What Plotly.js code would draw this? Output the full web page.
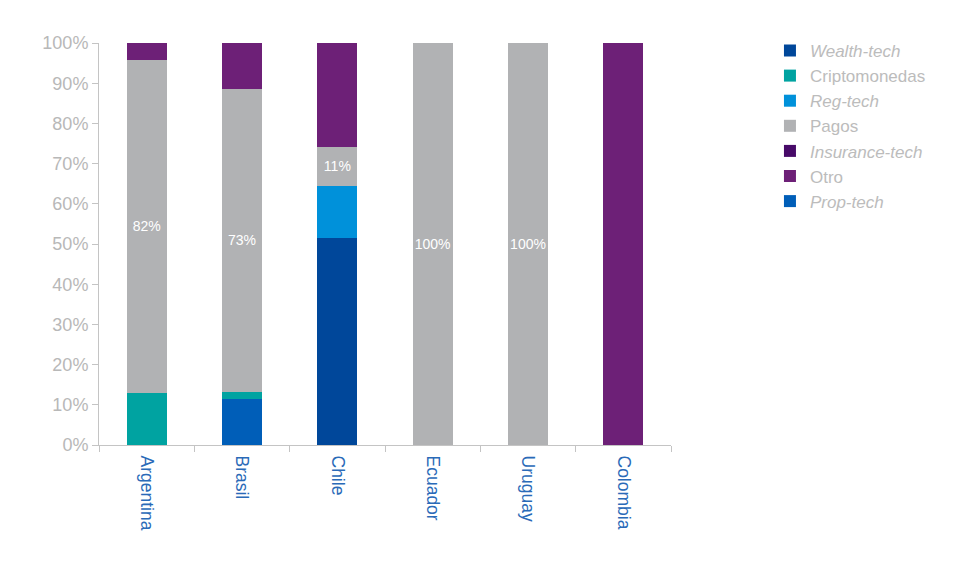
<!DOCTYPE html>
<html>
<head>
<meta charset="utf-8">
<script src="https://cdn.plot.ly/plotly-3.0.1.min.js"></script>
<style>
  html, body { margin: 0; padding: 0; background: #fff; }
  #chart { width: 966px; height: 580px; }
</style>
</head>
<body>
<div id="chart"></div>
<script>
const countries = ['Argentina', 'Brasil', 'Chile', 'Ecuador', 'Uruguay', 'Colombia']

// shares per country, in percent
const propTech = [0, 11.4, 0, 0, 0, 0]
const wealthTech = [0, 0, 51.5, 0, 0, 0]
const cripto = [13.0, 1.8, 0, 0, 0, 0]
const regTech = [0, 0, 13.0, 0, 0, 0]
const pagos = [82.8, 75.4, 9.7, 100, 100, 0]
const insuranceTech = [0, 0, 0, 0, 0, 0]
const otro = [4.2, 11.4, 25.8, 0, 0, 100]

const pagosLabels = ['82%', '73%', '11%', '100%', '100%', '']

const yTicks = [0, 10, 20, 30, 40, 50, 60, 70, 80, 90, 100]
const yTickText = yTicks.map(v => v + '%')

function barTrace(name, values, color, rank) {
    return {
        type: 'bar',
        x: countries,
        y: values,
        name: name,
        legendrank: rank,
        marker: { color: color, line: { width: 0 } },
        hoverinfo: 'skip',
        textposition: 'none',
    }
}

const pagosTrace = barTrace('Pagos', pagos, '#b1b2b4', 4)
pagosTrace.text = pagosLabels
pagosTrace.textposition = 'inside'
pagosTrace.textangle = 0
pagosTrace.insidetextanchor = 'middle'
pagosTrace.constraintext = 'none'
pagosTrace.insidetextfont = { color: '#ffffff', size: 14, family: 'Arial, Liberation Sans, sans-serif' }

const traces = [
    barTrace('<i>Prop-tech</i>', propTech, '#005eb8', 7),
    barTrace('<i>Wealth-tech</i>', wealthTech, '#00479a', 1),
    barTrace('Criptomonedas', cripto, '#00a3a1', 2),
    barTrace('<i>Reg-tech</i>', regTech, '#0091da', 3),
    pagosTrace,
    barTrace('<i>Insurance-tech</i>', insuranceTech, '#470a68', 5),
    barTrace('Otro', otro, '#6d2077', 6),
]

const layout = {
    width: 966,
    height: 580,
    barmode: 'stack',
    bargap: 0.58,
    paper_bgcolor: '#ffffff',
    plot_bgcolor: '#ffffff',
    margin: { l: 99, r: 295, t: 43, b: 135 },
    font: { family: 'Arial, Liberation Sans, sans-serif', color: '#b4b4b4', size: 17 },
    showlegend: true,
    legend: {
        x: 1.173,
        xanchor: 'left',
        y: 1.025,
        yanchor: 'top',
        traceorder: 'normal',
        font: { size: 17, color: '#bcbcbc' },
        itemwidth: 30,
        tracegroupgap: 0,
        bgcolor: 'rgba(0,0,0,0)',
    },
    xaxis: {
        type: 'category',
        tickangle: 90,
        tickson: 'boundaries',
        ticks: 'outside',
        ticklen: 6,
        tickcolor: '#c4c4c4',
        ticklabelstandoff: 6,
        showline: true,
        linecolor: '#c4c4c4',
        linewidth: 1,
        showgrid: false,
        tickfont: { size: 17.5, color: '#2a6ab8' },
        fixedrange: true,
    },
    yaxis: {
        range: [0, 100],
        tickvals: yTicks,
        ticktext: yTickText,
        ticks: 'outside',
        ticklen: 6,
        tickcolor: '#c4c4c4',
        showline: true,
        linecolor: '#c4c4c4',
        linewidth: 1,
        showgrid: false,
        zeroline: false,
        tickfont: { size: 18, color: '#b8b8b8' },
        fixedrange: true,
    },
}

Plotly.newPlot('chart', traces, layout, { displayModeBar: false, staticPlot: true })
</script>
</body>
</html>
